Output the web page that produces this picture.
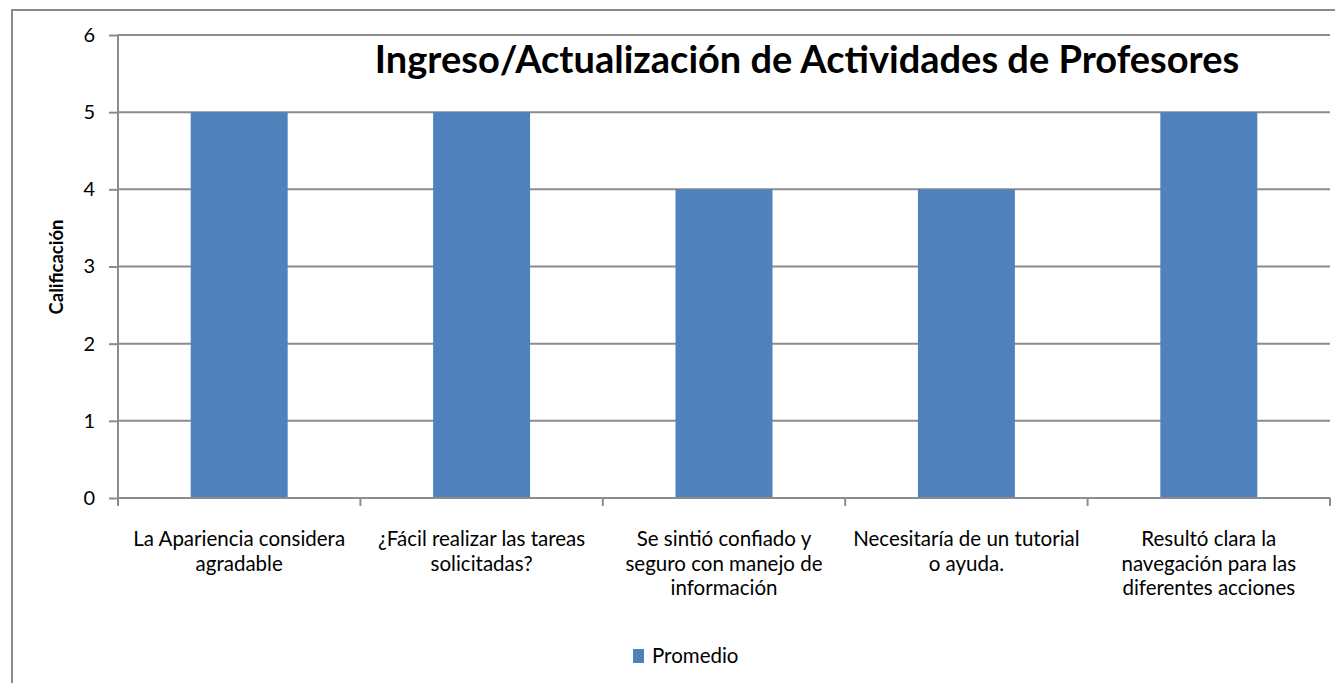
<!DOCTYPE html>
<html>
<head>
<meta charset="utf-8">
<script src="https://cdn.jsdelivr.net/npm/d3@7"></script>
<style>
    body { margin: 0; background: #fff; }
    svg { display: block; font-family: Lato, 'Open Sans', sans-serif; }
    .y-axis .domain, .x-axis .domain { display: none; }
</style>
</head>
<body>
<div id="chart-holder"></div>
<script>
// data
var categories = [
    'La Apariencia considera agradable',
    '¿Fácil realizar las tareas solicitadas?',
    'Se sintió confiado y seguro con manejo de información',
    'Necesitaría de un tutorial o ayuda.',
    'Resultó clara la navegación para las diferentes acciones'
];
var categoryLines = [
    ['La Apariencia considera', 'agradable'],
    ['¿Fácil realizar las tareas', 'solicitadas?'],
    ['Se sintió confiado y', 'seguro con manejo de', 'información'],
    ['Necesitaría de un tutorial', 'o ayuda.'],
    ['Resultó clara la', 'navegación para las', 'diferentes acciones']
];
var promedio = [5, 5, 4, 4, 5];
var yTicks = [0, 1, 2, 3, 4, 5, 6];
var seriesName = 'Promedio';
var chartTitle = 'Ingreso/Actualización de Actividades de Profesores';
var yTitle = 'Calificación';

function buildChart(containerId) {
    // size globals
    var width = 1335;
    var height = 683;

    var margin = {
        top: 35,
        right: 5,
        bottom: 185,
        left: 118
    };

    var innerWidth = width - margin.left - margin.right;
    var innerHeight = height - margin.top - margin.bottom;

    var gridColor = '#8c8c8c';
    var barColor = '#4f81bd';
    var fontFamily = "Lato, 'Open Sans', sans-serif";

    var svg = d3
        .select(containerId)
        .append('svg')
        .attr('width', width)
        .attr('height', height);

    // outer chart border
    svg
        .append('rect')
        .attr('x', 12)
        .attr('y', 10)
        .attr('width', width + 10)
        .attr('height', height + 10)
        .attr('fill', '#fff')
        .attr('stroke', gridColor)
        .attr('stroke-width', 2);

    var g = svg
        .append('g')
        .attr('transform', 'translate(' + margin.left + ',' + margin.top + ')');

    var data = categories.map(function(c, i) {
        return { cat: c, value: promedio[i], lines: categoryLines[i] };
    });

    // scales
    var x = d3
        .scaleBand()
        .domain(categories)
        .range([0, innerWidth])
        .paddingInner(0.6)
        .paddingOuter(0.3);

    var xCat = d3
        .scaleBand()
        .domain(categories)
        .range([0, innerWidth]);

    var y = d3
        .scaleLinear()
        .domain([0, 6])
        .range([innerHeight, 0]);

    // gridlines
    g
        .selectAll('.grid')
        .data(yTicks.filter(function(d) { return d > 0; }))
        .enter()
        .append('line')
        .attr('class', 'grid')
        .attr('x1', 0)
        .attr('x2', innerWidth)
        .attr('y1', function(d) { return y(d); })
        .attr('y2', function(d) { return y(d); })
        .attr('stroke', gridColor)
        .attr('stroke-width', 2);

    // y axis
    var yAxis = d3
        .axisLeft(y)
        .tickValues(yTicks)
        .tickFormat(d3.format('d'))
        .tickSize(9)
        .tickPadding(14);

    var yG = g
        .append('g')
        .attr('class', 'y-axis')
        .call(yAxis)
        .attr('font-family', fontFamily)
        .attr('font-size', 20);

    yG.selectAll('line').attr('stroke', gridColor).attr('stroke-width', 2);
    yG.selectAll('text').attr('fill', '#000');

    // bars
    g
        .selectAll('.bar')
        .data(data)
        .enter()
        .append('rect')
        .attr('class', 'bar')
        .attr('x', function(d) { return x(d.cat); })
        .attr('y', function(d) { return y(d.value); })
        .attr('width', x.bandwidth())
        .attr('height', function(d) { return innerHeight - y(d.value); })
        .attr('fill', barColor);

    // axis lines
    g
        .append('line')
        .attr('x1', 0)
        .attr('x2', 0)
        .attr('y1', 0)
        .attr('y2', innerHeight + 8)
        .attr('stroke', gridColor)
        .attr('stroke-width', 2);

    g
        .append('line')
        .attr('x1', 0)
        .attr('x2', innerWidth)
        .attr('y1', innerHeight)
        .attr('y2', innerHeight)
        .attr('stroke', gridColor)
        .attr('stroke-width', 2);

    // category boundary ticks
    var bounds = categories.map(function(c) { return xCat(c); }).concat([innerWidth]);
    g
        .selectAll('.xtick')
        .data(bounds)
        .enter()
        .append('line')
        .attr('class', 'xtick')
        .attr('x1', function(d) { return d; })
        .attr('x2', function(d) { return d; })
        .attr('y1', innerHeight)
        .attr('y2', innerHeight + 8)
        .attr('stroke', gridColor)
        .attr('stroke-width', 2);

    // category labels
    var labels = g
        .selectAll('.x-label')
        .data(data)
        .enter()
        .append('text')
        .attr('class', 'x-label')
        .attr('text-anchor', 'middle')
        .style('font-size', '20.5px')
        .attr('fill', '#000');

    labels
        .selectAll('tspan')
        .data(function(d) {
            return d.lines.map(function(l) { return { cat: d.cat, line: l }; });
        })
        .enter()
        .append('tspan')
        .attr('x', function(d) { return xCat(d.cat) + xCat.bandwidth() / 2; })
        .attr('y', function(d, i) { return innerHeight + 48 + i * 24.5; })
        .text(function(d) { return d.line; });

    // y axis label
    g
        .append('text')
        .attr('class', 'y-axis-label')
        .attr('transform', 'translate(-55,' + (267 - margin.top) + ') rotate(-90)')
        .attr('text-anchor', 'middle')
        .style('font-size', '18.5px')
        .style('font-weight', 'bold')
        .text(yTitle);

    // title
    svg
        .append('text')
        .attr('class', 'title')
        .attr('x', 807)
        .attr('y', 73)
        .attr('text-anchor', 'middle')
        .style('font-size', '38px')
        .style('font-weight', 'bold')
        .text(chartTitle);

    // legend
    var legend = svg.append('g').attr('transform', 'translate(633,649)');
    legend
        .append('rect')
        .attr('width', 11)
        .attr('height', 14)
        .attr('fill', barColor);
    legend
        .append('text')
        .attr('x', 19)
        .attr('y', 14)
        .style('font-size', '20.5px')
        .text(seriesName);
}

buildChart('#chart-holder');
</script>
</body>
</html>
